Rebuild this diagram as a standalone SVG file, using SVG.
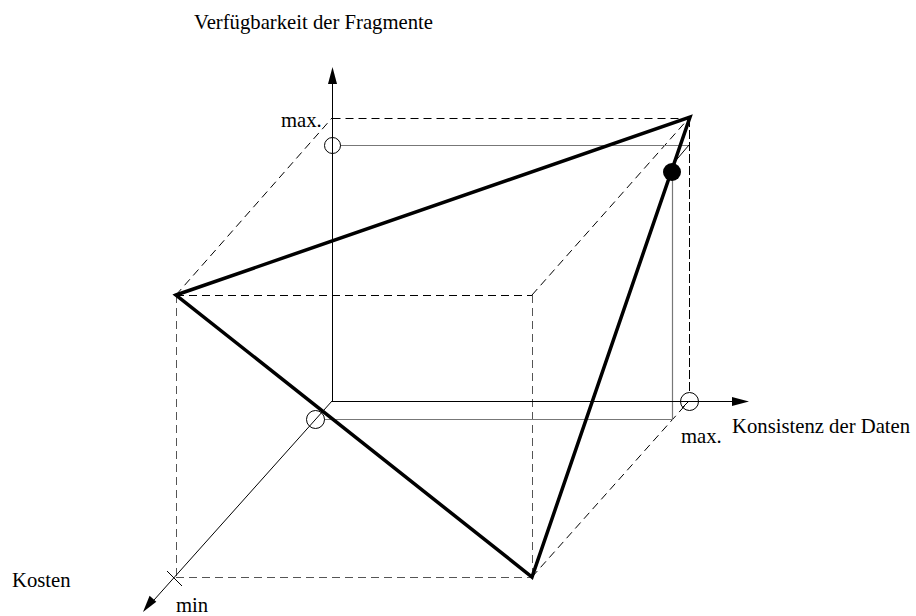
<svg xmlns="http://www.w3.org/2000/svg" width="916" height="616" viewBox="0 0 916 616">
<style>
text{font-family:"Liberation Serif","Times New Roman",serif;font-size:20.7px;fill:#000}
.dash{fill:none;stroke:#000;stroke-width:1;stroke-dasharray:8,5}
.dashg{fill:none;stroke:#555;stroke-width:1;stroke-dasharray:8,5}
.axis{fill:none;stroke:#000;stroke-width:1}
.gray{fill:none;stroke:#777;stroke-width:1.2}
.thick{fill:none;stroke:#000;stroke-width:3.5;stroke-linejoin:miter}
.ring{fill:none;stroke:#000;stroke-width:1}
</style>
<rect width="916" height="616" fill="#fff"/>
<g id="connectors">
  <path class="dash" d="M332.5,118.5 L689.5,118.5"/>
  <path class="dash" d="M176,295 L332,118"/>
  <path class="dash" d="M532,295 L689,118"/>
  <path class="dash" d="M532,577 L689,401"/>
  <path class="dash" d="M176,295.5 L532,295.5"/>
  <path class="dashg" d="M176.5,295 L176.5,577"/>
  <path class="dashg" d="M176,577.5 L532,577.5"/>
  <path class="dashg" d="M532.5,295 L532.5,577"/>
  <path fill="none" stroke="#000" stroke-width="1" stroke-dasharray="9,3" d="M689.5,118 L689.5,392"/>
  <path class="gray" d="M340,145.5 L689,145.5"/>
  <path class="gray" d="M672.5,180 L672.5,419.5 L324,419.5"/>
  <path class="axis" d="M672,165 L689,145"/>
  <path class="axis" d="M689,401 L682,408"/>
  <path class="axis" d="M332.5,401 L332.5,82"/>
  <polygon points="332.5,67 328,84 337,84" fill="#000"/>
  <path class="axis" d="M332,401.5 L734,401.5"/>
  <polygon points="749,401.5 732,397 732,406" fill="#000"/>
  <path class="axis" d="M332,401 L154,600"/>
  <polygon points="143,612 149.6,595.8 156.3,601.8" fill="#000"/>
  <path class="axis" d="M167,571 L182,586"/>
  <path class="thick" d="M176,295 L690,117 L532,577 Z"/>
</g>
<g id="node-circle-v"><circle class="ring" cx="332.5" cy="145.5" r="8"/></g>
<g id="node-circle-k"><circle class="ring" cx="315.5" cy="419.5" r="9"/></g>
<g id="node-circle-h"><circle class="ring" cx="689.5" cy="401.5" r="9"/></g>
<g id="node-dot"><circle cx="672" cy="172" r="9" fill="#000"/></g>
<g id="labels">
  <text x="194" y="29">Verfügbarkeit der Fragmente</text>
  <text x="281" y="127">max.</text>
  <text x="681" y="443">max.</text>
  <text x="732" y="433">Konsistenz der Daten</text>
  <text x="12" y="587">Kosten</text>
  <text x="176" y="612">min</text>
</g>
</svg>
